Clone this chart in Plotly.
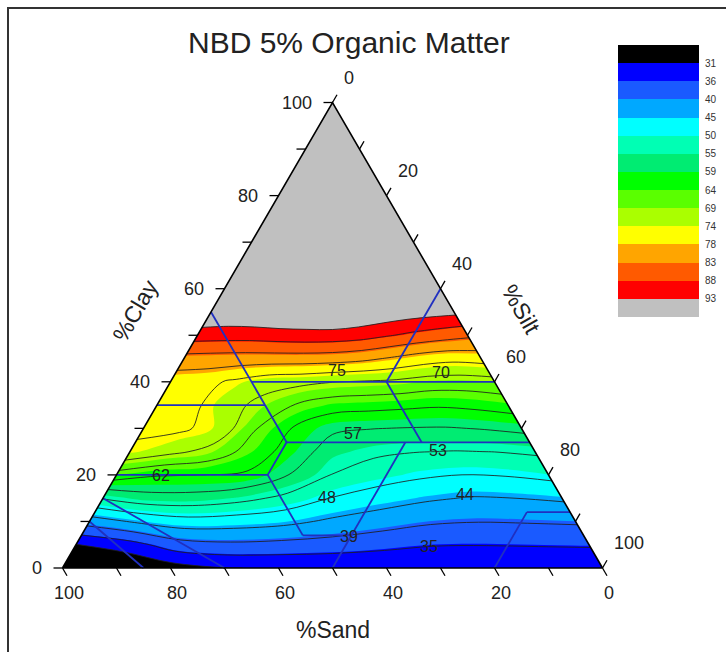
import math
import plotly.graph_objects as go

# ---------------------------------------------------------------- data ----
TITLE = "NBD 5% Organic Matter"

# Organic-matter response on a ternary grid.
# rows: clay content (%); columns: share of the non-clay part that is silt
clay_rows = [0, 5, 10, 15, 20, 25, 30, 35, 40, 45, 50, 55, 60]
silt_share = [0.0, 0.1, 0.2, 0.3, 0.4, 0.5, 0.6, 0.7, 0.8, 0.9, 1.0]
om_grid = [
    [24.0, 25.5, 29.0, 30.9, 31.2, 31.2, 31.2, 31.2, 31.2, 31.2, 31.2],
    [30.8, 33.5, 38.0, 39.0, 38.6, 38.0, 36.8, 35.7, 35.6, 35.8, 36.0],
    [42.0, 45.0, 47.0, 46.5, 45.5, 43.5, 42.0, 40.5, 40.0, 40.2, 40.5],
    [53.5, 56.0, 56.0, 54.5, 52.0, 48.5, 46.5, 45.0, 44.0, 44.3, 45.0],
    [64.5, 62.3, 62.0, 61.5, 57.5, 53.0, 51.0, 49.5, 48.7, 49.0, 50.0],
    [74.5, 72.0, 69.5, 64.5, 60.0, 55.5, 54.0, 53.3, 53.0, 53.2, 53.8],
    [76.0, 76.0, 73.5, 66.5, 61.5, 58.3, 57.7, 57.4, 57.3, 57.8, 58.6],
    [76.5, 76.3, 72.5, 69.5, 66.0, 64.0, 63.5, 63.0, 62.5, 63.0, 64.0],
    [77.0, 76.5, 74.5, 72.5, 72.0, 71.0, 70.5, 70.0, 68.8, 68.6, 69.2],
    [82.5, 82.2, 82.0, 82.0, 82.0, 81.7, 80.8, 79.2, 77.5, 76.5, 77.0],
    [90.7, 90.5, 90.5, 91.0, 91.3, 91.2, 90.5, 89.0, 87.5, 86.2, 85.0],
    [97.5, 97.0, 97.5, 98.0, 98.0, 98.5, 97.5, 96.5, 95.5, 94.8, 94.2],
    [99.5, 99.5, 99.5, 99.5, 99.5, 99.5, 99.5, 99.5, 99.5, 99.5, 99.5],
]
# above this clay content the whole field lies beyond the top level
cap_clay = 58

# colour bands (filled) and contour lines
level_low, level_high = 31, 93
fill_intervals = 13
line_intervals = 14
legend_labels = ["31", "36", "40", "45", "50", "55", "59", "64", "69",
                 "74", "78", "83", "88", "93"]
band_colors = ["#000000", "#0000ff", "#1a5aff", "#00a8ff", "#00ffff",
               "#00ffb4", "#00ec72", "#00ff00", "#5aff00", "#aaff00",
               "#ffff00", "#ffa500", "#ff5a00", "#ff0000", "#c0c0c0"]

# contour labels: (line index, clay %, silt %)
label_spots = [(10, 42.5, 29.6), (9, 42.1, 49.0), (6, 29.0, 39.3),
               (5, 25.3, 56.8), (7, 19.8, 8.4), (4, 15.2, 41.4),
               (3, 15.7, 66.7), (2, 6.7, 49.7), (1, 4.7, 65.5)]

# USDA soil texture class boundaries: ((clay, silt), (clay, silt))
texture_lines = [
    ((55, 0), (27, 28)), ((35, 0), (35, 20)), ((40, 15), (40, 60)),
    ((60, 40), (40, 40)), ((40, 40), (27, 53)), ((27, 28), (27, 73)),
    ((20, 0), (20, 28)), ((20, 28), (27, 28)), ((20, 28), (7, 41)),
    ((7, 41), (7, 50)), ((27, 50), (0, 50)), ((12, 80), (12, 88)),
    ((12, 80), (0, 80)), ((15, 0), (0, 30)), ((10, 0), (0, 15)),
]

tick_values = [0, 10, 20, 30, 40, 50, 60, 70, 80, 90, 100]
tick_labels = [0, 20, 40, 60, 80, 100]

# ------------------------------------------------------------ geometry ----
H = math.sqrt(3) / 2
PX_X = 5.4      # pixels per x unit
PX_Y = 5.375    # pixels per y unit
X0_PX, Y0_PX = 62.5, 568.0
W, HT = 726, 652
FONT = "Liberation Sans, Arial, sans-serif"
TXT = "#222222"
CLEAR = "rgba(0,0,0,0)"


def tern(clay, silt):
    """Ternary (clay, silt) -> cartesian x, y (side length 100)."""
    return silt + clay / 2.0, clay * H


fig = go.Figure()

corners = [tern(0, 0), tern(100, 0), tern(0, 100)]

# carpet holding the ternary grid
ca, cb, cx, cy, cz = [], [], [], [], []
for i, c in enumerate(clay_rows):
    for j, s in enumerate(silt_share):
        x, y = tern(c, (100 - c) * s)
        ca.append(c)
        cb.append(s)
        cx.append(x)
        cy.append(y)
        cz.append(om_grid[i][j])

axis_off = dict(showgrid=False, showline=False, showticklabels="none",
                startline=False, endline=False, minorgridcount=0,
                color=CLEAR, gridcolor=CLEAR, linecolor=CLEAR,
                startlinecolor=CLEAR, endlinecolor=CLEAR,
                minorgridcolor=CLEAR)
fig.add_trace(go.Carpet(carpet="tri", a=ca, b=cb, x=cx, y=cy,
                        aaxis=axis_off, baxis=axis_off, color=CLEAR))

# stepped colour scale for the filled bands
n_fill = fill_intervals + 1
fill_scale = []
for k, col in enumerate(band_colors):
    fill_scale.append([max(0.0, (k - 0.5) / n_fill), col])
    fill_scale.append([min(1.0, (k + 0.5) / n_fill), col])

fill_size = (level_high - level_low) / fill_intervals
line_size = (level_high - level_low) / line_intervals

fig.add_trace(go.Contourcarpet(
    carpet="tri", a=ca, b=cb, z=cz, autocontour=False,
    contours=dict(start=level_low, end=level_high, size=fill_size,
                  coloring="fill", showlines=False),
    colorscale=fill_scale, showscale=False,
    line=dict(width=0, smoothing=1)))

fig.add_trace(go.Contourcarpet(
    carpet="tri", a=ca, b=cb, z=cz, autocontour=False,
    contours=dict(start=level_low, end=level_high, size=line_size,
                  coloring="none", showlines=True),
    showscale=False,
    line=dict(color="rgba(30,30,30,0.85)", width=1, smoothing=1)))

# grey cap over the top corner (all values above the top level)
cap = [tern(cap_clay, 0), tern(cap_clay, 100 - cap_clay), tern(100, 0),
       tern(cap_clay, 0)]
fig.add_trace(go.Scatter(
    x=[p[0] for p in cap], y=[p[1] for p in cap], mode="lines",
    fill="toself", fillcolor=band_colors[-1], line=dict(width=0),
    hoverinfo="skip", showlegend=False))

# texture class boundaries
lx, ly = [], []
for (c1, s1), (c2, s2) in texture_lines:
    x1, y1 = tern(c1, s1)
    x2, y2 = tern(c2, s2)
    lx += [x1, x2, None]
    ly += [y1, y2, None]
fig.add_trace(go.Scatter(x=lx, y=ly, mode="lines",
                         line=dict(color="#2030c0", width=1.8),
                         hoverinfo="skip", showlegend=False))

# triangle frame
fig.add_trace(go.Scatter(
    x=[p[0] for p in corners + corners[:1]],
    y=[p[1] for p in corners + corners[:1]], mode="lines",
    line=dict(color="black", width=1.6), hoverinfo="skip", showlegend=False))

# axis ticks
TL = 9.0
kx, ky = [], []
for v in tick_values:
    x, y = tern(v, 0)                       # clay, left edge
    kx += [x, x - TL / PX_X, None]
    ky += [y, y, None]
    x, y = tern(0, 100 - v)                 # sand, bottom edge
    kx += [x, x + TL * 0.5 / PX_X, None]
    ky += [y, y - TL * H / PX_Y, None]
    x, y = tern(100 - v, v)                 # silt, right edge
    kx += [x, x + TL * 0.5 / PX_X, None]
    ky += [y, y + TL * H / PX_Y, None]
fig.add_trace(go.Scatter(x=kx, y=ky, mode="lines",
                         line=dict(color="black", width=1.3),
                         hoverinfo="skip", showlegend=False))

ann = []
tick_font = dict(family=FONT, size=18, color=TXT)
for v in tick_labels:
    x, y = tern(v, 0)
    ann.append(dict(x=x, y=y, text=str(v), showarrow=False, xanchor="right",
                    yanchor="middle", xshift=-19, font=tick_font))
    x, y = tern(0, 100 - v)
    ann.append(dict(x=x, y=y, text=str(v), showarrow=False, xanchor="center",
                    yanchor="middle", xshift=6, yshift=-25, font=tick_font))
    x, y = tern(100 - v, v)
    ann.append(dict(x=x, y=y, text=str(v), showarrow=False, xanchor="left",
                    yanchor="middle", xshift=9, yshift=25, font=tick_font))

title_font = dict(family=FONT, size=23, color=TXT)
x, y = tern(0, 50)
ann.append(dict(x=x, y=y, text="%Sand", showarrow=False, xanchor="center",
                yanchor="middle", yshift=-62, font=title_font))
x, y = tern(55, 0)
ann.append(dict(x=x, y=y, text="%Clay", showarrow=False, xanchor="center",
                yanchor="middle", xshift=-76, yshift=1, textangle=-60,
                font=title_font))
x, y = tern(55, 45)
ann.append(dict(x=x, y=y, text="%Silt", showarrow=False, xanchor="center",
                yanchor="middle", xshift=67, yshift=3, textangle=60,
                font=title_font))

# contour labels, text taken from the labelled level
for k, c, s in label_spots:
    level = level_low + k * line_size
    x, y = tern(c, s)
    ann.append(dict(x=x, y=y, text=str(int(level + 1e-9)), showarrow=False,
                    xanchor="center", yanchor="middle",
                    font=dict(family=FONT, size=16, color=TXT)))

ann.append(dict(x=349 / W, y=1 - 43 / HT, xref="paper", yref="paper",
                text=TITLE, showarrow=False, xanchor="center",
                yanchor="middle",
                font=dict(family=FONT, size=30, color=TXT)))

# colour key
n_bands = len(band_colors)
key_scale = []
for k, col in enumerate(band_colors):
    key_scale.append([k / n_bands, col])
    key_scale.append([(k + 1) / n_bands, col])
fig.add_trace(go.Heatmap(
    z=[[k] for k in range(n_bands)], x=[0], y=list(range(n_bands)),
    colorscale=key_scale, zmin=-0.5, zmax=n_bands - 0.5, showscale=False,
    xaxis="x2", yaxis="y2", hoverinfo="skip"))

# grey base triangle (values above the top level), drawn beneath the traces
tri_path = "M " + " L ".join(f"{px},{py}" for px, py in corners) + " Z"

fig.update_layout(
    width=W, height=HT, margin=dict(l=0, r=0, t=0, b=0),
    paper_bgcolor="white", plot_bgcolor="white", showlegend=False,
    annotations=ann,
    xaxis=dict(range=[-X0_PX / PX_X, (W - X0_PX) / PX_X], visible=False,
               domain=[0, 1], fixedrange=True),
    yaxis=dict(range=[-(HT - Y0_PX) / PX_Y, Y0_PX / PX_Y], visible=False,
               domain=[0, 1], fixedrange=True),
    xaxis2=dict(domain=[618 / W, 699 / W], range=[-0.5, 0.5],
                visible=False, anchor="y2"),
    yaxis2=dict(domain=[1 - 317 / HT, 1 - 45 / HT],
                range=[n_bands - 0.5, -0.5], anchor="x2", side="right",
                tickvals=[k + 0.5 for k in range(len(legend_labels))],
                ticktext=legend_labels, ticks="", showgrid=False,
                zeroline=False, showline=False, ticklabelstandoff=5,
                tickfont=dict(family=FONT, size=10, color="#333333")),
    shapes=[
        dict(type="path", xref="x", yref="y", path=tri_path, layer="below",
             fillcolor=band_colors[-1], line=dict(width=0)),
        dict(type="rect", xref="paper", yref="paper",
             x0=8 / W, x1=1.2, y0=-0.2, y1=1 - 8 / HT,
             line=dict(color="#333333", width=2)),
    ],
)

fig.write_html("out.html")
